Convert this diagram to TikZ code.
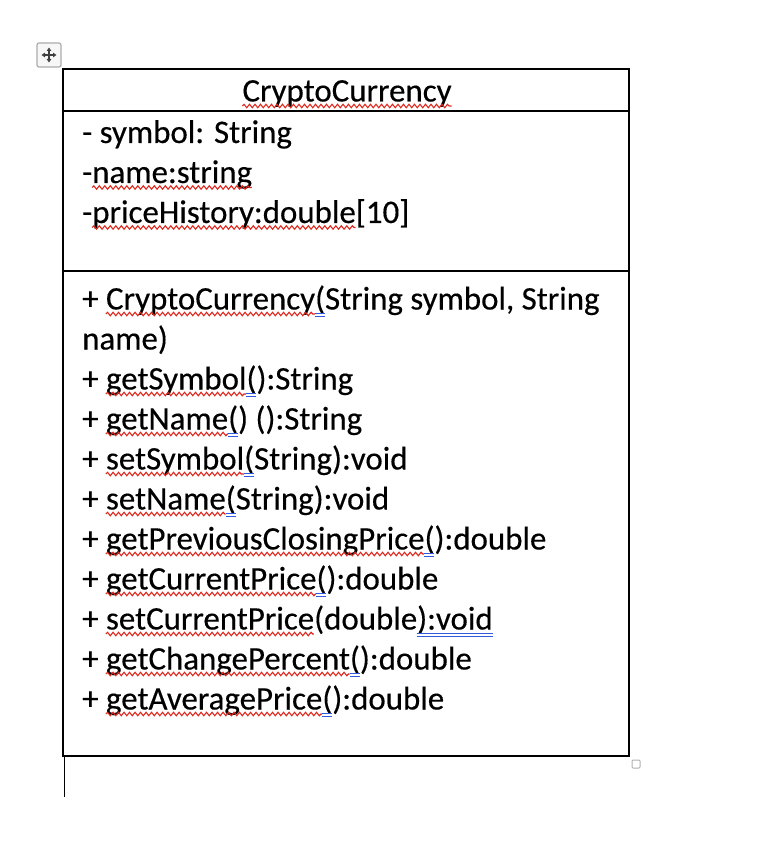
\documentclass[tikz,border=0pt]{standalone}
\usepackage{fontspec}
\setmainfont[FakeBold=0.35]{Carlito}
\usetikzlibrary{decorations.pathmorphing,arrows.meta}
\newlength\umlwA \newlength\umlwB \newlength\umlwC \newlength\umlwD
\newcommand\umlfont{\fontsize{32.9}{40}\selectfont}
\definecolor{squigred}{RGB}{222,40,30}
\definecolor{grammarblue}{RGB}{50,90,220}
\tikzset{
  txt/.style={anchor=base west, inner sep=0pt, font=\umlfont},
  squig/.style={draw=squigred, line width=1.1pt, decorate,
    decoration={snake, amplitude=1.7pt, segment length=5.5pt}},
  gram/.style={draw=grammarblue, line width=1pt, double=white, double distance=1.2pt},
  border/.style={line width=1.8pt, draw=black},
}
\newcommand\umlline[7]{%
  \node[txt] (#1) at (82,-#2) {%
    \setbox0\hbox{#3}\global\umlwA=\wd0
    \setbox0\hbox{#3#4}\global\umlwB=\wd0
    \setbox0\hbox{#3#4#5}\global\umlwC=\wd0
    \setbox0\hbox{#3#4#5#6}\global\umlwD=\wd0
    #3#4#5#6#7};
  \def\umltmpa{#4}\def\umltmpb{#6}%
  \ifx\umltmpa\empty\else
    \draw[squig] ([xshift=\umlwA,yshift=-4.5pt]#1.base west) -- ([xshift=\umlwB,yshift=-4.5pt]#1.base west);
  \fi
  \ifx\umltmpb\empty\else
    \draw[gram] ([xshift=\umlwC,yshift=-5.5pt]#1.base west) -- ([xshift=\umlwD,yshift=-5.5pt]#1.base west);
  \fi
}
\begin{document}
\begin{tikzpicture}[x=1pt,y=1pt]
\useasboundingbox (0,0) rectangle (766,-866);
% move handle icon
\draw[rounded corners=2pt, draw=gray!65, fill=gray!6, line width=1.2pt] (37,-43) rectangle (61,-67);
\draw[black!75, line width=1.3pt, {Triangle[length=3.5pt,width=4.5pt]}-{Triangle[length=3.5pt,width=4.5pt]}] (41.5,-55) -- (56.5,-55);
\draw[black!75, line width=1.3pt, {Triangle[length=3.5pt,width=4.5pt]}-{Triangle[length=3.5pt,width=4.5pt]}] (49,-47.5) -- (49,-62.5);
% class box
\draw[border] (63,-69) rectangle (629,-756);
\draw[border] (63,-111) -- (629,-111);
\draw[border] (63,-271) -- (629,-271);
\draw[border] (64.5,-756) -- (64.5,-797);
% resize handle
\draw[draw=gray!60, fill=white, rounded corners=1pt, line width=1pt] (632,-760) rectangle (640,-768);
% title
\node[anchor=base, inner sep=0pt, font=\umlfont] (title) at (347,-101.5) {CryptoCurrency};
\draw[squig] ([yshift=-4.5pt]title.base west) -- ([yshift=-4.5pt]title.base east);
% attributes
\umlline{a1}{143}{- symbol: String}{}{}{}{}
\umlline{a2}{183}{-}{name:string}{}{}{}
\umlline{a3}{223}{-}{priceHistory:double}{}{}{[10]}
% methods
\umlline{m1}{309.5}{+ }{CryptoCurrency}{}{(}{String symbol, String}
\umlline{m1b}{349.5}{name)}{}{}{}{}
\umlline{m2}{389.5}{+ }{getSymbol}{}{(}{):String}
\umlline{m3}{429.5}{+ }{getName}{}{(}{) ():String}
\umlline{m4}{469.5}{+ }{setSymbol}{}{(}{String):void}
\umlline{m5}{509.5}{+ }{setName}{}{(}{String):void}
\umlline{m6}{549.5}{+ }{getPreviousClosingPrice}{}{(}{):double}
\umlline{m7}{589.5}{+ }{getCurrentPrice}{}{(}{):double}
\umlline{m8}{629.5}{+ }{setCurrentPrice}{(double}{):void}{}
\umlline{m9}{669.5}{+ }{getChangePercent}{}{(}{):double}
\umlline{m10}{709.5}{+ }{getAveragePrice}{}{(}{):double}
\end{tikzpicture}
\end{document}
